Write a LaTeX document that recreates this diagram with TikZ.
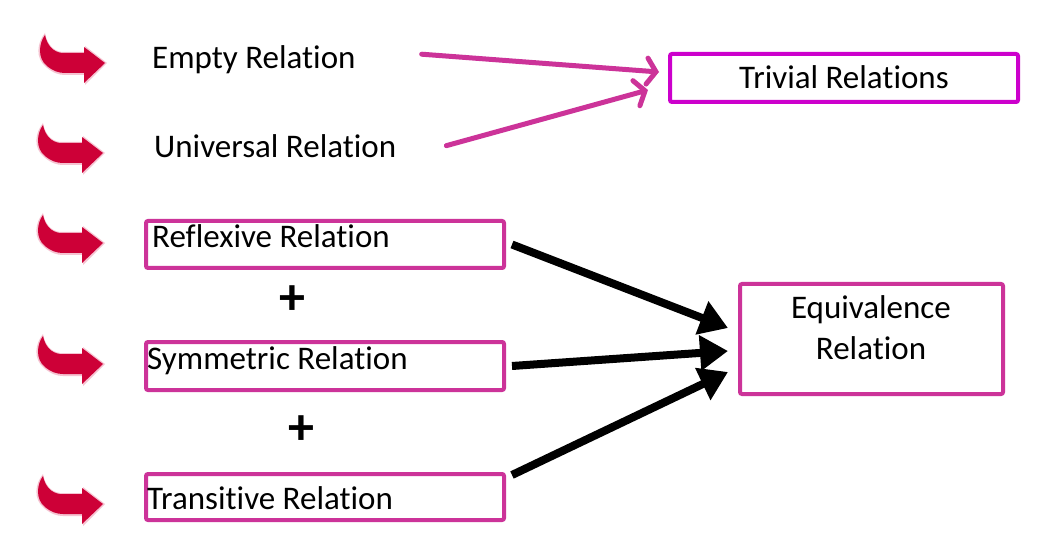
\documentclass[tikz,border=0pt]{standalone}
\usepackage{fontspec}
\setmainfont{Carlito}[RawFeature={-liga;-clig;-dlig}]
\usetikzlibrary{arrows.meta,calc}
\definecolor{pinkline}{RGB}{204,51,153}
\definecolor{purpbox}{RGB}{204,0,204}
\definecolor{crimson}{RGB}{205,0,55}
\definecolor{halo}{RGB}{242,170,190}
\newcommand{\Rel}{Relat\kern0pt ion}
\tikzset{
  x=1pt,y=-1pt,
  txt/.style={inner sep=0pt,font=\fontsize{33}{40}\selectfont},
  plussign/.style={inner sep=0pt,font=\fontsize{52}{52}\selectfont\bfseries},
  box/.style={draw=pinkline,line width=4pt,rounded corners=2pt,inner sep=0pt},
  pinkarrow/.style={draw=pinkline,line width=5pt,line cap=round,-{Straight Barb[length=9pt,width=26pt,line cap=round]}},
  blackarrow/.style={draw=black,line width=8pt,-{Triangle[length=28pt,width=34pt]}},
  pics/bulletarrow/.style={code={
    \fill[halo,opacity=0.7] (2,0) -- (-20,-17) -- (-20,-11) -- (-43,-11) .. controls (-52,-12) and (-58,-19) .. (-60,-30) .. controls (-68,-20) and (-70,-5) .. (-59,4) .. controls (-52,10) and (-46,12) .. (-40,12) -- (-20,12) -- (-20,22) -- cycle;
    \fill[crimson] (0,0) -- (-21,-16) -- (-21,-10) -- (-43,-10) .. controls (-52,-11) and (-58,-18) .. (-60,-28) .. controls (-66,-20) and (-68,-5) .. (-58,3) .. controls (-52,8) and (-46,10) .. (-40,10) -- (-21,10) -- (-21,20) -- cycle;
  }}
}
\begin{document}
\begin{tikzpicture}
\useasboundingbox[fill=white] (0,0) rectangle (1044,545);
% bullets
\pic at (105,63) {bulletarrow};
\pic at (103,153) {bulletarrow};
\pic at (103,243) {bulletarrow};
\pic at (103,364) {bulletarrow};
\pic at (103,504) {bulletarrow};
% top texts
\node[txt,anchor=base west] (empty) at (152,69) {Empty \Rel};
\node[txt,anchor=base west] (univ) at (154,158) {Universal \Rel};
% trivial box
\node[box,draw=purpbox,minimum width=348pt,minimum height=48pt] (triv) at (844,78) {};
\node[txt,anchor=base] (trivt) at (844,89) {Trivial \Rel s};
% boxes
\node[box,minimum width=358pt,minimum height=47pt] (refl) at (325,244.5) {};
\node[txt,anchor=base west] (reflt) at (152,248) {Reflexive \Rel};
\node[box,minimum width=358pt,minimum height=48pt] (symm) at (325,366) {};
\node[txt,anchor=base west] (symmt) at (147,369) {Symmetric \Rel};
\node[box,minimum width=358pt,minimum height=46pt] (trans) at (325,497) {};
\node[txt,anchor=base west] (transt) at (147,509) {Transit\kern0pt ive \Rel};
\node[plussign] (plus1) at (292,300) {+};
\node[plussign] (plus2) at (301,430) {+};
% equivalence
\node[box,minimum width=263pt,minimum height=110pt] (eq) at (871.5,339) {};
\node[txt,anchor=base] (eqt1) at (871,319) {Equivalence};
\node[txt,anchor=base] (eqt2) at (871,359) {\Rel};
% pink arrows
\coordinate (e1) at ($(empty.east)+(66,-6)$);
\coordinate (u1) at ($(univ.east)+(50,-1)$);
\draw[pinkarrow] (e1) -- ($(triv.west)+(-9,-6)$);
\draw[pinkarrow] (u1) -- ($(triv.west)+(-20,12)$);
% black arrows
\draw[blackarrow] ($(refl.east)+(6,0)$) -- ($(eq.west)+(-10,-11)$);
\draw[blackarrow] ($(symm.east)+(6,0)$) -- ($(eq.west)+(-10,12)$);
\draw[blackarrow] ($(trans.east)+(6,-22)$) -- ($(eq.west)+(-10,33)$);
\end{tikzpicture}
\end{document}
